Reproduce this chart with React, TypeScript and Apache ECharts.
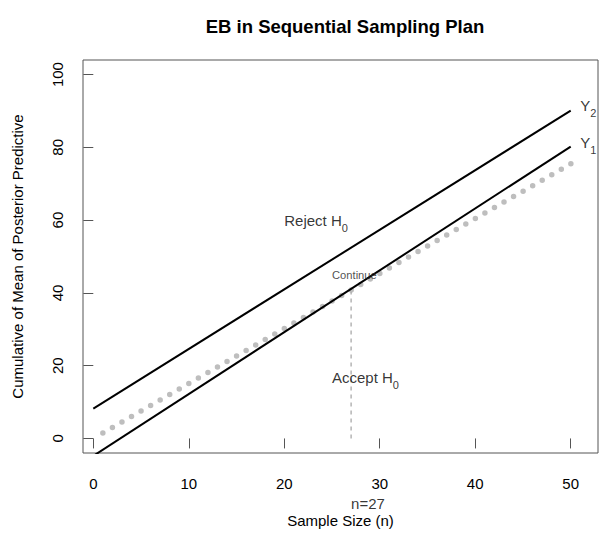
import React, { useEffect, useRef } from "react";
import * as echarts from "echarts";

const xTicks = [0, 10, 20, 30, 40, 50];
const yTicks = [0, 20, 40, 60, 80, 100];
const upperY2 = [[0, 8.2], [50, 90.1]];
const lowerY1 = [[0, -4.8], [50, 80.2]];
const cumulativeMean = [[1, 1.5], [51, 77.0]];
const stopN = 27;
const stopLine = [[stopN, 0], [stopN, 40.3]];
const annotationTexts = ["{m|Reject H}{s|0}", "{c|Continue}", "{m|Accept H}{s|0}", "{m|Y}{s|2}", "{m|Y}{s|1}", "{m|n=27}"];
const annotationX = [20, 25, 25, 51, 51, 27];
const annotationY = [60, 45, 16.8, 91.5, 81.4, -17.9];

const FONT = "'Liberation Sans', Arial, Helvetica, sans-serif";

export default function App() {
  const ref = useRef<HTMLDivElement>(null);
  useEffect(() => {
    if (!ref.current) return;
    const chart = echarts.init(ref.current, undefined, { renderer: "svg" });
    const rich = {
      m: { fontSize: 15, color: "#000", fontFamily: FONT, lineHeight: 15 },
      s: { fontSize: 11, color: "#000", fontFamily: FONT, verticalAlign: "top", padding: [10, 0, 0, 0], lineHeight: 11 },
      c: { fontSize: 11.2, color: "#222", fontFamily: FONT },
    };
    chart.setOption({
      animation: false,
      backgroundColor: "#fff",
      title: {
        text: "EB in Sequential Sampling Plan",
        left: 340,
        top: 12,
        textAlign: "center",
        textStyle: { fontSize: 18.5, fontWeight: "bold", color: "#000", fontFamily: FONT },
      },
      grid: { left: 83, top: 60, width: 515, height: 394, show: true, borderColor: "#555", borderWidth: 1, backgroundColor: "transparent" },
      xAxis: {
        type: "value",
        min: -1.08,
        max: 52.86,
        name: "Sample Size (n)",
        nameLocation: "middle",
        nameGap: 60,
        nameTextStyle: { fontSize: 15, color: "#000", fontFamily: FONT },
        axisLine: { show: false },
        splitLine: { show: false },
        axisTick: { show: true, length: 10, lineStyle: { color: "#555" }, customValues: xTicks },
        axisLabel: { fontSize: 15, color: "#000", fontFamily: FONT, margin: 23, customValues: xTicks },
      },
      yAxis: {
        type: "value",
        min: -4,
        max: 104,
        name: "Cumulative of Mean of Posterior Predictive",
        nameLocation: "middle",
        nameGap: 58,
        nameRotate: 90,
        nameTextStyle: { fontSize: 15, color: "#000", fontFamily: FONT },
        axisLine: { show: false },
        splitLine: { show: false },
        axisTick: { show: true, length: 10, lineStyle: { color: "#555" }, customValues: yTicks },
        axisLabel: { fontSize: 15, color: "#000", fontFamily: FONT, margin: 18, rotate: 90, customValues: yTicks },
      },
      series: [
        {
          type: "line",
          data: cumulativeMean,
          symbol: "none",
          lineStyle: { color: "#BEBEBE", width: 5.5, type: [0, 11.02], cap: "round" },
          z: 2,
        },
        {
          type: "line",
          data: upperY2,
          symbol: "none",
          lineStyle: { color: "#000", width: 2 },
          z: 3,
        },
        {
          type: "line",
          data: lowerY1,
          symbol: "none",
          lineStyle: { color: "#000", width: 2 },
          z: 3,
        },
        {
          type: "line",
          data: stopLine,
          symbol: "none",
          lineStyle: { color: "#A8A8A8", width: 1.3, type: [4, 4] },
          z: 2,
        },
        {
          type: "scatter",
          symbolSize: 0,
          clip: false,
          silent: true,
          z: 5,
          data: annotationTexts.map((t, i) => ({
            value: [annotationX[i], annotationY[i]],
            label: { show: true, position: "right", distance: 0, formatter: t, rich },
          })),
        },
      ],
    });
    return () => chart.dispose();
  }, []);
  return <div ref={ref} style={{ position: "absolute", left: 0, top: 0, width: 599, height: 533 }} />;
}
